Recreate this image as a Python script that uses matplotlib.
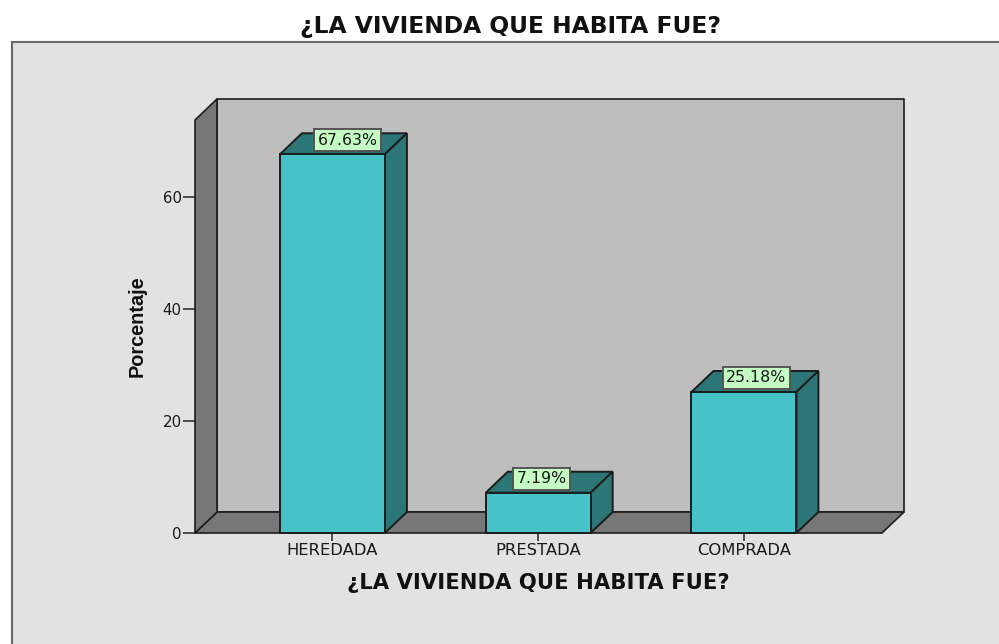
#Bar chart with fake 3D faces
import matplotlib
matplotlib.use('Agg')
import matplotlib.pyplot as plt
from matplotlib.patches import Polygon, Rectangle

categories = ['HEREDADA', 'PRESTADA', 'COMPRADA']
values = [67.63, 7.19, 25.18]
value_labels = ['67.63%', '7.19%', '25.18%']
y_ticks = [0, 20, 40, 60]
title = '¿LA VIVIENDA QUE HABITA FUE?'
y_title = 'Porcentaje'

W, H = 999, 644
plt.rcParams['font.family'] = ['Liberation Sans', 'DejaVu Sans']

fig = plt.figure(figsize=(W / 100, H / 100), dpi=100, facecolor='white')

# outer grey panel runs off the right and bottom edge
fig.add_artist(Rectangle((12 / W, -0.05), 1.05, 1.05 - 42 / H, transform=fig.transFigure,
                         facecolor='#e2e2e2', edgecolor='#6a6a6a', linewidth=1.5, zorder=-5))

# axes = front frame of the box
ax = fig.add_axes([195 / W, 1 - 533 / H, 687 / W, 413 / H])
ax.patch.set_visible(False)
ax.set_xlim(-0.668, 2.671)
ax.set_ylim(0, 73.75)
for s in ax.spines.values():
    s.set_visible(False)

dx = 22 / 205.7
dy = 21 / 5.6
x0, x1 = ax.get_xlim()
top = ax.get_ylim()[1]
line = '#1c1c1c'
wall = dict(edgecolor=line, linewidth=1.2, clip_on=False, joinstyle='round')

# back wall, floor, left wall
ax.add_patch(Polygon([(x0 + dx, dy), (x1 + dx, dy), (x1 + dx, top + dy), (x0 + dx, top + dy)],
                     facecolor='#bebebe', zorder=1, **wall))
ax.add_patch(Polygon([(x0, 0), (x1, 0), (x1 + dx, dy), (x0 + dx, dy)],
                     facecolor='#777777', zorder=2, **wall))
ax.add_patch(Polygon([(x0, 0), (x0 + dx, dy), (x0 + dx, top + dy), (x0, top)],
                     facecolor='#777777', zorder=2, **wall))

# bars
bar_w = 0.51
positions = list(range(len(categories)))
ax.bar(positions, values, width=bar_w, color='#46c2c8', edgecolor=line, linewidth=1.4, zorder=4, clip_on=False)
for p, v in zip(positions, values):
    l, r = p - bar_w / 2, p + bar_w / 2
    ax.add_patch(Polygon([(l, v), (r, v), (r + dx, v + dy), (l + dx, v + dy)],
                         facecolor='#2c7678', edgecolor=line, linewidth=1.4, zorder=3, clip_on=False))
    ax.add_patch(Polygon([(r, 0), (r + dx, dy), (r + dx, v + dy), (r, v)],
                         facecolor='#2c7678', edgecolor=line, linewidth=1.4, zorder=3, clip_on=False))

# value labels sit on the top face, not quite centred
label_shift = [15, 3.5, 12.5]
for p, v, txt, sh in zip(positions, values, value_labels, label_shift):
    ax.annotate(txt, (p, v), xytext=(sh * 0.72, 14 * 0.72), textcoords='offset points',
                ha='center', va='center', fontsize=11.3, color='#1a1a1a', zorder=6, family=['DejaVu Sans'],
                bbox=dict(boxstyle='square,pad=0.22', facecolor='#c4fcc4', edgecolor='#555555', linewidth=1.4))

ax.set_yticks(y_ticks)
ax.set_xticks(positions)
ax.set_xticklabels(categories)
ax.tick_params(axis='y', length=8.5, width=1.2, color='#333333', labelsize=10.8, labelcolor='#1a1a1a', pad=1)
ax.tick_params(axis='x', length=6, width=1.2, color='#333333', labelsize=11.8, labelcolor='#1a1a1a', pad=1)
for t in ax.get_xticklabels() + ax.get_yticklabels():
    t.set_fontfamily(['DejaVu Sans'])

# titles
fig.text(511 / W, 1 - 27 / H, title, ha='center', va='center', fontsize=16.8, fontweight='bold',
         color='#111111', family=['DejaVu Sans'])
fig.text(538 / W, 1 - 583 / H, title, ha='center', va='center', fontsize=15.2, fontweight='bold',
         color='#111111', family=['DejaVu Sans'])
fig.text(137 / W, 1 - 326 / H, y_title, rotation=90, ha='center', va='center', fontsize=14.3,
         fontweight='bold', color='#111111', family=['Liberation Sans Narrow', 'Liberation Sans'])

plt.savefig('out.png', dpi=100)
